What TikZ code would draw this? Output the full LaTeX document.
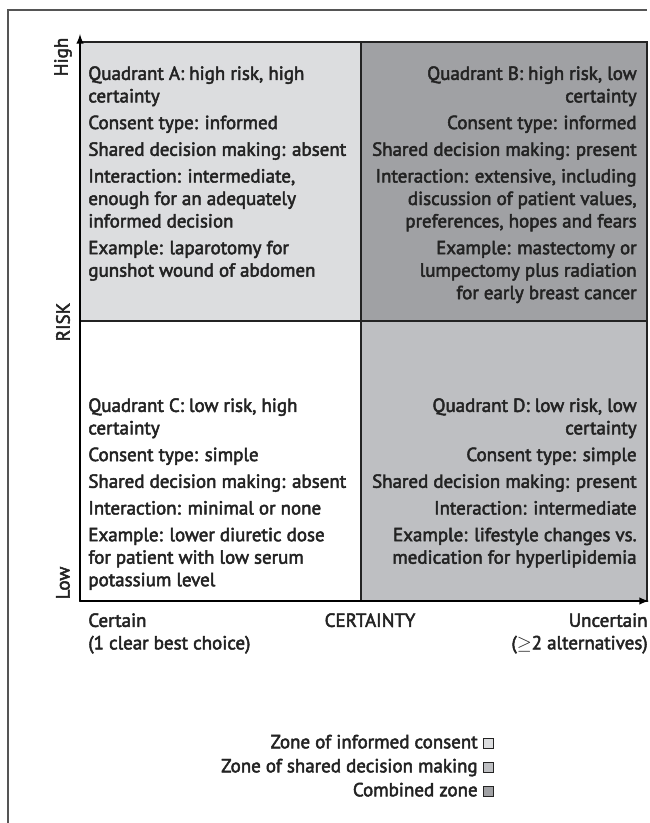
\documentclass[tikz,border=0pt]{standalone}
\usepackage{fontspec}
\setmainfont{PT Sans}[FakeBold=2.6]
\usetikzlibrary{positioning}
\definecolor{ink}{RGB}{35,35,35}
\definecolor{framegray}{RGB}{85,85,85}
\definecolor{zoneinf}{RGB}{220,221,223}
\definecolor{zoneshared}{RGB}{190,191,194}
\definecolor{zonecomb}{RGB}{160,161,164}
\begin{document}
\begin{tikzpicture}[
  font=\fontsize{10.8}{12.8}\selectfont,
  quadtext/.style={inner sep=0pt, text=ink},
  axislabel/.style={inner sep=0pt, text=ink},
  legendtext/.style={inner sep=0pt, text=ink, text height=1.6ex, text depth=0.4ex},
  legendbox/.style={draw=ink, line width=0.5pt, minimum size=0.2cm, inner sep=0pt}
]
\def\pgap{2.4pt} % extra space between items
\useasboundingbox (0,0) rectangle (13,-16.46);

% outer frame (only top and left edges show)
\draw[framegray, line width=1.1pt] (0.16,-16.46) -- (0.16,-0.2) -- (12.94,-0.2);

% the four quadrants
\draw[ink, line width=0.7pt, fill=zoneinf] (1.6,-6.42) rectangle (7.22,-0.84);
\draw[ink, line width=0.7pt, fill=zonecomb] (7.22,-6.42) rectangle (12.94,-0.84);
\draw[ink, line width=0.7pt, fill=white] (1.6,-12.02) rectangle (7.22,-6.42);
\draw[ink, line width=0.7pt, fill=zoneshared] (7.22,-12.02) rectangle (12.94,-6.42);

% axes
\coordinate (origin) at (1.6,-12.02);
\coordinate (risktip) at (1.6,-0.68);
\coordinate (certtip) at (12.98,-12.02);
\draw[line width=0.9pt, -latex] (origin) -- (risktip);
\draw[line width=0.9pt, -latex] (origin) -- (certtip);

% quadrant texts
\node[quadtext, anchor=north west, align=left] (quadA) at (1.76,-1.32) {Quadrant A: high risk, high\\ certainty\\[\pgap]
Consent type: informed\\[\pgap]
Shared decision making: absent\\[\pgap]
Interaction: intermediate,\\ enough for an adequately\\ informed decision\\[\pgap]
Example: laparotomy for\\ gunshot wound of abdomen};
\node[quadtext, anchor=north east, align=right] (quadB) at (12.74,-1.32) {Quadrant B: high risk, low\\ certainty\\[\pgap]
Consent type: informed\\[\pgap]
Shared decision making: present\\[\pgap]
Interaction: extensive, including\\ discussion of patient values,\\ preferences, hopes and fears\\[\pgap]
Example: mastectomy or\\ lumpectomy plus radiation\\ for early breast cancer};
\node[quadtext, anchor=north west, align=left] (quadC) at (1.76,-7.96) {Quadrant C: low risk, high\\ certainty\\[\pgap]
Consent type: simple\\[\pgap]
Shared decision making: absent\\[\pgap]
Interaction: minimal or none\\[\pgap]
Example: lower diuretic dose\\ for patient with low serum\\ potassium level};
\node[quadtext, anchor=north east, align=right] (quadD) at (12.74,-7.96) {Quadrant D: low risk, low\\ certainty\\[\pgap]
Consent type: simple\\[\pgap]
Shared decision making: present\\[\pgap]
Interaction: intermediate\\[\pgap]
Example: lifestyle changes vs.\\ medication for hyperlipidemia};

% axis labels
\node[axislabel, rotate=90] (high) at (1.26,-1.14) {High};
\node[axislabel, rotate=90] (risk) at (1.26,-6.44) {RISK};
\node[axislabel, rotate=90] (low) at (1.26,-11.66) {Low};
\node[axislabel, anchor=north west, align=left] (certain) at (1.76,-12.26) {Certain\\ (1 clear best choice)};
\node[axislabel, anchor=north] (certainty) at (7.4,-12.26) {CERTAINTY};
\node[axislabel, anchor=north east, align=right] (uncertain) at (12.96,-12.26) {Uncertain\\ ($\geq$2 alternatives)};

% legend
\node[legendtext, anchor=east] (leginf) at (9.56,-14.86) {Zone of informed consent};
\node[legendtext, anchor=east] (legshared) at (9.56,-15.34) {Zone of shared decision making};
\node[legendtext, anchor=east] (legcomb) at (9.56,-15.82) {Combined zone};
\node[legendbox, fill=zoneinf, right=0.1cm of leginf] (boxinf) {};
\node[legendbox, fill=zoneshared, right=0.1cm of legshared] (boxshared) {};
\node[legendbox, fill=zonecomb, right=0.1cm of legcomb] (boxcomb) {};
\end{tikzpicture}
\end{document}
